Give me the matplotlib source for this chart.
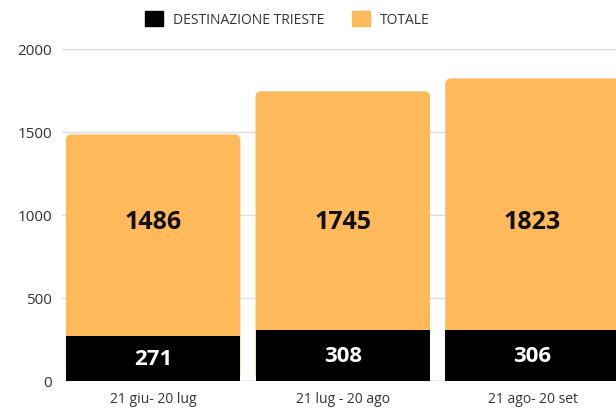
import matplotlib.pyplot as plt
from matplotlib.patches import FancyBboxPatch, Patch
import numpy as np

plt.rcParams['font.family'] = ['Open Sans', 'DejaVu Sans']

periodi = ['21 giu- 20 lug', '21 lug - 20 ago', '21 ago- 20 set']
totale = [1486, 1745, 1823]
trieste = [271, 308, 306]

arancio = '#fdb95a'
nero = '#000000'

fig = plt.figure(figsize=(6.16, 4.10), dpi=100)
ax = fig.add_axes([62/616, 28/410, 554/616, 332/410])

x = np.arange(len(periodi))
w = 0.92
xmin, xmax = -0.48, 2.44
ymin, ymax = 0, 2000
ax.set_xlim(xmin, xmax)
ax.set_ylim(ymin, ymax)

# aspect to get round corners right in data coords
px_x = (xmax - xmin) / 554
px_y = (ymax - ymin) / 332
r = 6 * px_x
for i in range(len(x)):
    p = FancyBboxPatch((x[i] - w/2, 0), w, totale[i],
                       boxstyle='round,pad=0,rounding_size=%f' % r,
                       mutation_aspect=px_y / px_x,
                       fc=arancio, ec='none', zorder=2)
    ax.add_patch(p)
ax.bar(x, trieste, width=w, color=nero, zorder=3)

for i in range(len(x)):
    ax.text(x[i], 960, str(totale[i]), ha='center', va='center',
            fontsize=18, fontweight='bold', color='#111111', zorder=4)
    ax.text(x[i], trieste[i] / 2, str(trieste[i]), ha='center', va='center',
            fontsize=16, fontweight='bold', color='white', zorder=4)

ax.set_yticks([0, 500, 1000, 1500, 2000])
ax.set_xticks(x)
ax.set_xticklabels(periodi)
ax.tick_params(length=0, labelsize=10, colors='#333333')
ax.tick_params(axis='y', pad=7, labelsize=11)
ax.tick_params(axis='x', pad=7)
ax.grid(axis='y', color='#dddddd', lw=1, zorder=0)
for s in ax.spines.values():
    s.set_visible(False)
ax.axhline(0, color='#bbbbbb', lw=1, zorder=1)

handles = [Patch(color=nero), Patch(color=arancio)]
fig.legend(handles, ['DESTINAZIONE TRIESTE', 'TOTALE'], loc='center',
           bbox_to_anchor=(287/616, 1 - 20/410), ncol=2, frameon=False,
           fontsize=10, handlelength=1.3, handleheight=1.3,
           columnspacing=2.0, handletextpad=0.7, labelcolor='#333333')

fig.savefig('out.png', dpi=100)
